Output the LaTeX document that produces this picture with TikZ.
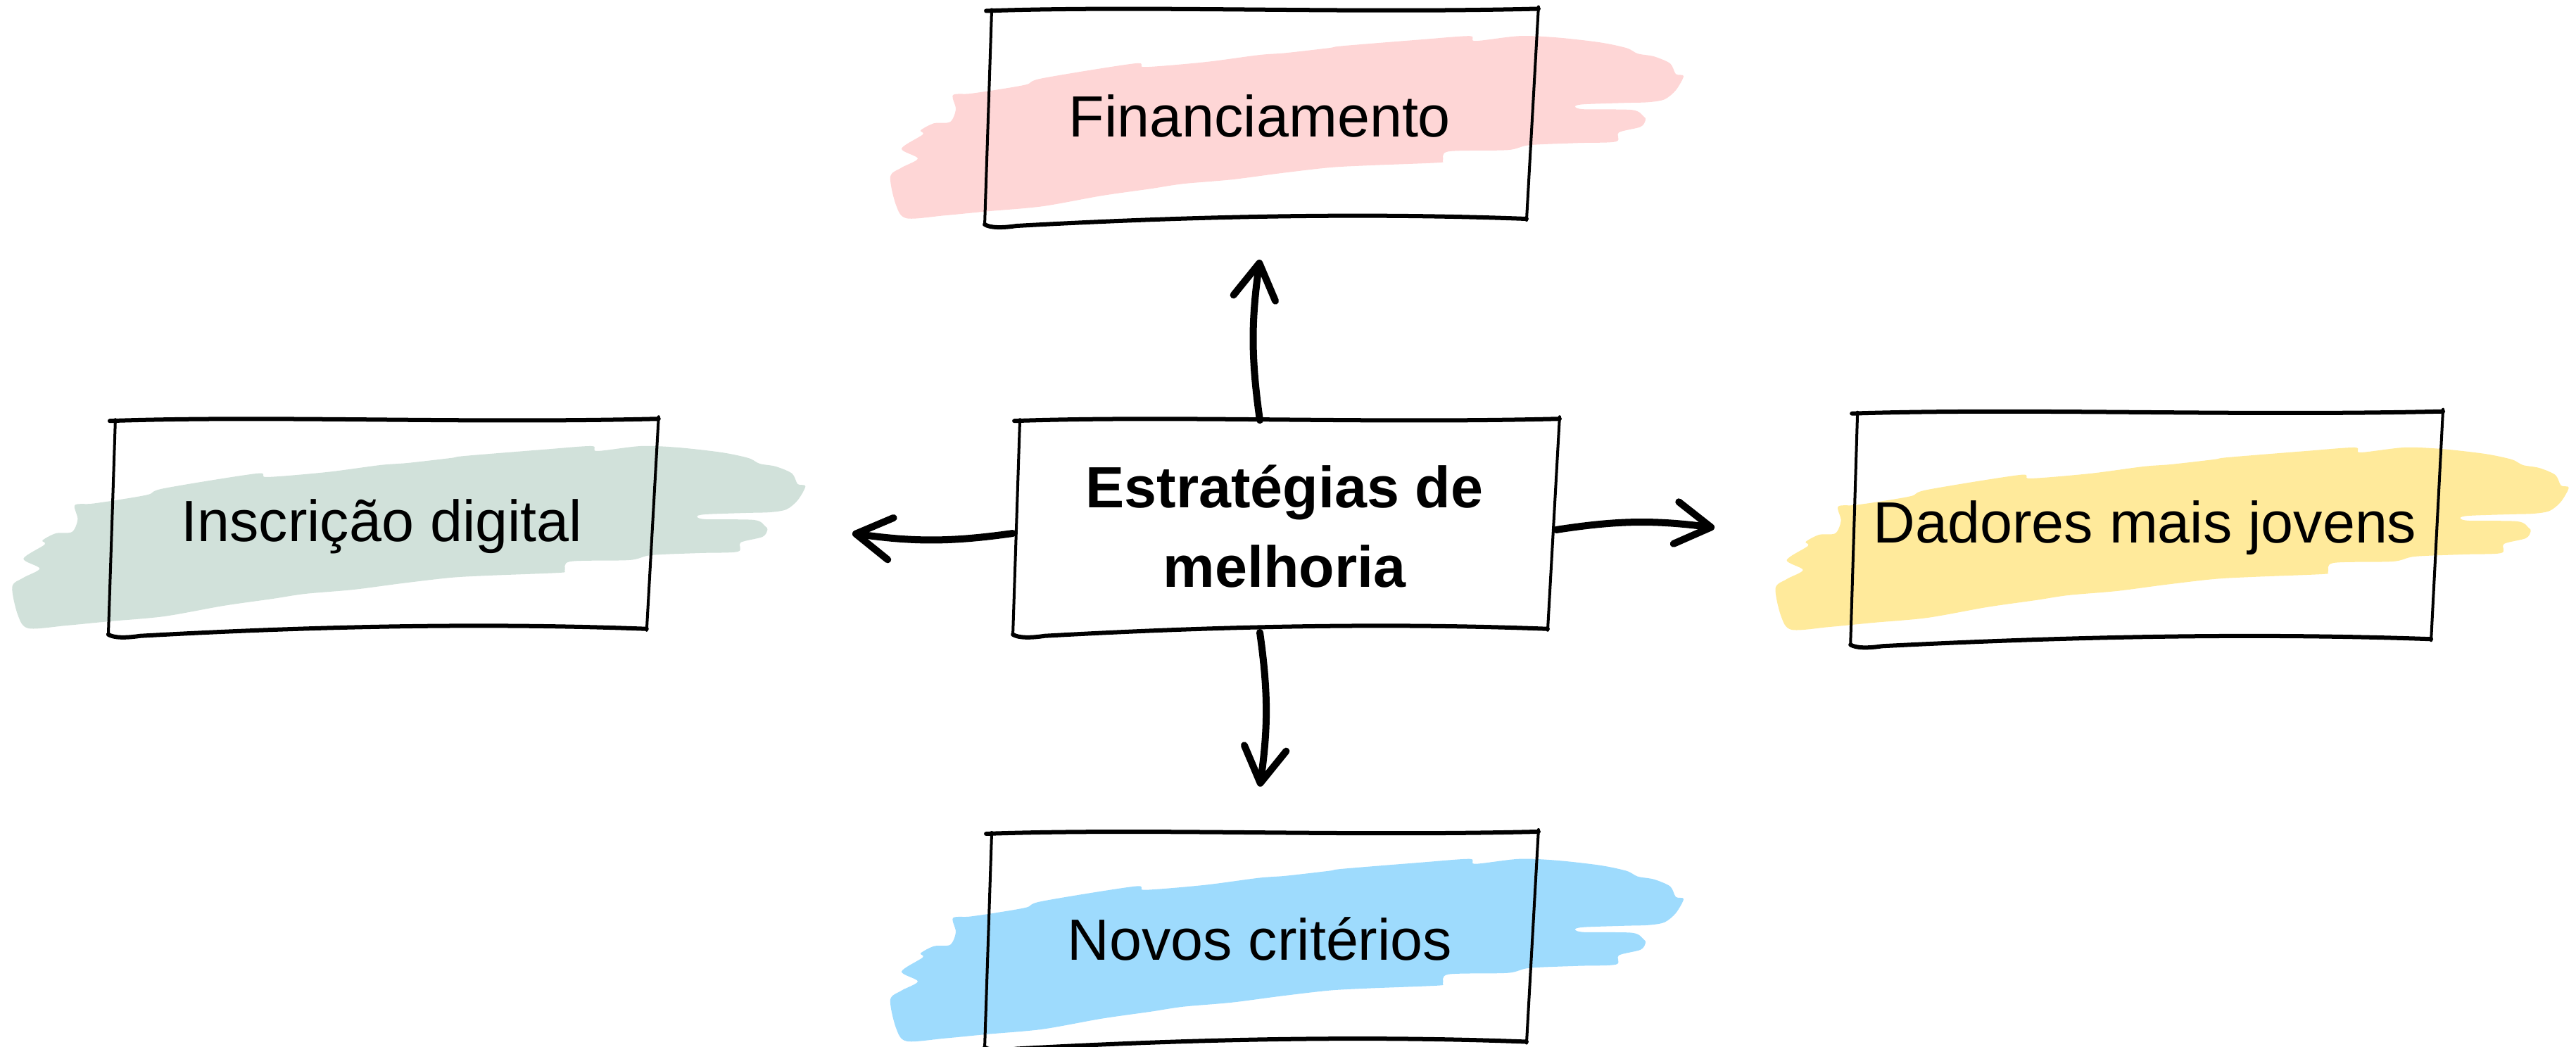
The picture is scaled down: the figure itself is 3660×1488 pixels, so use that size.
\documentclass[tikz,border=0pt]{standalone}
\usepackage{fontspec}
\setmainfont{Liberation Sans}
\usetikzlibrary{arrows.meta,positioning,calc,backgrounds}
\definecolor{ink}{RGB}{0,0,0}
\definecolor{pinkwash}{RGB}{254,214,214}
\definecolor{sagewash}{RGB}{209,225,218}
\definecolor{yellowwash}{RGB}{255,234,155}
\definecolor{bluewash}{RGB}{158,219,253}
\tikzset{
  card/.style={minimum width=7.8cm,minimum height=3cm,inner sep=0pt,align=center,
    font=\fontsize{23.5}{32}\selectfont},
  hub/.style={card,minimum width=7.7cm,font=\fontsize{23.5}{32}\selectfont\bfseries},
  rim/.style={draw=ink,line width=0.06cm,line cap=round,line join=round},
  side/.style={draw=ink,line width=0.04cm,line cap=round},
  arr/.style={-{Straight Barb[length=0.5cm,width=0.6cm,round]},draw=ink,
    line width=0.1cm,line cap=round},
  brush/.pic={\fill[pic actions] plot[smooth cycle,tension=0.5] coordinates{
    (-502,-145) (-517,-126) (-525,-86) (-509,-73) (-486,-60) (-509,-46) (-479,-26)
    (-482,-20) (-463,-10) (-440,-8) (-432,10) (-436,30) (-413,32) (-378,37)
    (-332,45) (-309,54) (-178,75) (-163,70) (-78,77) (-2,87) (37,90) (98,97)
    (118,100) (229,109) (298,114) (306,107) (368,114) (421,112) (483,105)
    (521,97) (537,89) (560,85) (583,75) (591,60) (602,57) (591,37) (575,24)
    (552,20) (518,19) (460,17) (448,14) (460,10) (529,9) (545,0) (548,-5)
    (541,-15) (510,-23) (506,-36) (452,-38) (383,-41) (352,-48) (268,-50)
    (260,-63) (252,-66) (152,-70) (98,-73) (29,-81) (-40,-90) (-109,-96)
    (-155,-103) (-225,-113) (-309,-128) (-386,-135) (-448,-141)};},
}
\begin{document}
\begin{tikzpicture}[x=0.01cm,y=0.01cm]
  \useasboundingbox (0,0) rectangle (3660,1488);
  % boxes
  \node[hub] (cen) at (1825,740) {Estratégias de\\melhoria};
  \node[card,above=2.81cm of cen,xshift=-0.35cm] (fin) {Financiamento};
  \node[card,below=2.85cm of cen,xshift=-0.35cm] (nov) {Novos critérios};
  \node[card,minimum width=7.75cm,left=5.08cm of cen] (ins) {Inscrição digital};
  \node[card,minimum width=8.35cm,minimum height=3.25cm,right=4.18cm of cen,
    yshift=-0.02cm] (dad) {Dadores mais jovens};
  % brush strokes
  \begin{scope}[on background layer]
    \foreach \n/\c in {fin/pinkwash,ins/sagewash,dad/yellowwash,nov/bluewash}
      \pic[fill=\c] at (\n) {brush};
  \end{scope}
  % hand-drawn frames
  \foreach \n in {fin,cen,ins,dad,nov}{
    \draw[rim] ($(\n.north west)+(2,-1)$)
      .. controls ($(\n.north west)!0.3!(\n.north east)+(0,7)$)
      and ($(\n.north west)!0.65!(\n.north east)+(0,-5)$) .. ($(\n.north east)+(5,2)$);
    \draw[rim] ($(\n.south west)+(0,-3)$)
      .. controls ($(\n.south west)+(8,-8)$) and ($(\n.south west)+(25,-8)$)
      .. ($(\n.south west)+(45,-5)$)
      .. controls ($(\n.south west)!0.45!(\n.south east)+(0,12)$)
      and ($(\n.south west)!0.75!(\n.south east)+(0,12)$) .. ($(\n.south east)+(-12,5)$);
    \draw[side] ($(\n.north west)+(10,1)$) -- ($(\n.south west)+(0,-3)$);
    \draw[side] ($(\n.north east)+(5,5)$) -- ($(\n.south east)+(-12,3)$);
  }
  % arrows
  \coordinate (finTip) at ([yshift=-0.53cm]fin.south);
  \coordinate (novTip) at ([yshift=0.66cm]nov.north);
  \coordinate (insTip) at ([xshift=2.8cm,yshift=-0.1cm]ins.east);
  \coordinate (dadTip) at ([xshift=-1.93cm]dad.west);
  \draw[arr] (cen.north -| finTip) to[bend left=8] (finTip);
  \draw[arr] (cen.south -| novTip) to[bend left=8] (novTip);
  \draw[arr] ([yshift=-0.1cm]cen.west) to[bend left=8] (insTip);
  \draw[arr] ([yshift=-0.05cm]cen.east) to[bend left=8] (dadTip);
\end{tikzpicture}
\end{document}
